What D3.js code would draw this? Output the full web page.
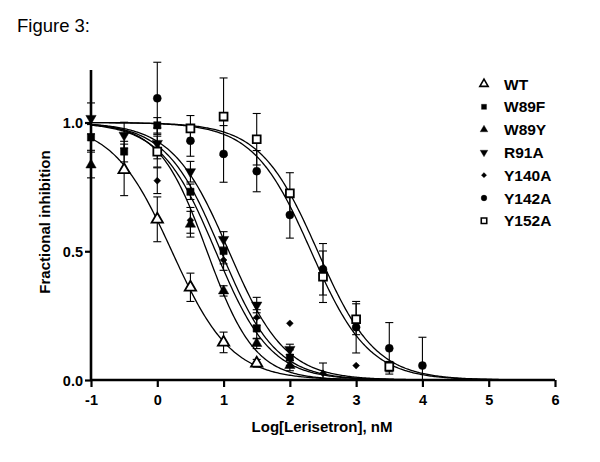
<!DOCTYPE html>
<html><head><meta charset="utf-8">
<script src="https://cdn.jsdelivr.net/npm/d3@7"></script>
<style>
body{margin:0;background:#fff;}
svg{display:block;font-family:"Liberation Sans",Arial,sans-serif;}
</style></head><body>
<svg id="c" width="600" height="462"></svg>
<script>
// ---- data ----
const seriesNames = ["WT","W89F","W89Y","R91A","Y140A","Y142A","Y152A"];
const xWT    = [-0.5, 0, 0.5, 1, 1.5];
const yWT    = [0.816, 0.624, 0.36, 0.146, 0.065];
const eWT    = [0.10, 0.087, 0.055, 0.04, 0.015];
const xW89F  = [-1, -0.5, 0, 0.5, 1, 1.5, 2];
const yW89F  = [0.942, 0.887, 0.989, 0.731, 0.501, 0.20, 0.087];
const eW89F  = [0.05, 0.04, 0.03, 0.03, 0.05, 0.04, 0.03];
const xW89Y  = [-1, 0.5, 1, 1.5, 2];
const yW89Y  = [0.835, 0.605, 0.346, 0.142, 0.056];
const eW89Y  = [0.05, 0.05, 0.02, 0.02, 0.02];
const xR91A  = [-1, -0.5, 0, 0.5, 1, 1.5, 2];
const yR91A  = [1.016, 0.951, 0.919, 0.809, 0.546, 0.291, 0.119];
const eR91A  = [0.06, 0.05, 0.06, 0.04, 0.03, 0.03, 0.02];
const xY140A = [0, 0.5, 1, 1.5, 2, 2.5, 3];
const yY140A = [0.774, 0.62, 0.466, 0.243, 0.22, 0.026, 0.056];
const eY140A = [0.05, 0.05, 0.04, 0.03, 0, 0.04, 0];
const xY142A = [0, 0.5, 1, 1.5, 2, 2.5, 3, 3.5, 4];
const yY142A = [1.094, 0.929, 0.878, 0.811, 0.641, 0.43, 0.205, 0.123, 0.056];
const eY142A = [0.14, 0.06, 0.11, 0.08, 0.09, 0.10, 0.10, 0.10, 0.11];
const xY152A = [0, 0.5, 1, 1.5, 2, 2.5, 3, 3.5];
const yY152A = [0.887, 0.977, 1.023, 0.935, 0.725, 0.401, 0.236, 0.052];
const eY152A = [0.06, 0.05, 0.15, 0.10, 0.08, 0.10, 0.06, 0.02];
// fitted sigmoid parameters (log IC50, Hill slope)
const fitLogIC50 = [0.22, 0.96, 0.75, 1.08, 0.88, 2.32, 2.42];
const fitHill    = [0.97, 1.05, 1.2, 1.02, 1.05, 1.0, 1.0];
const xTicks = [-1,0,1,2,3,4,5,6];
const xTickLabels = ["-1","0","1","2","3","4","5","6"];
const yTicks = [0, 0.5, 1.0];
const yTickLabels = ["0.0","0.5","1.0"];
const titleText = "Figure 3:";
const xLabel = "Log[Lerisetron], nM";
const yLabel = "Fractional inhibition";

const xs = [xWT,xW89F,xW89Y,xR91A,xY140A,xY142A,xY152A];
const ys = [yWT,yW89F,yW89Y,yR91A,yY140A,yY142A,yY152A];
const es = [eWT,eW89F,eW89Y,eR91A,eY140A,eY142A,eY152A];

// marker styles
const symType = [d3.symbolTriangle,d3.symbolSquare,d3.symbolTriangle,d3.symbolTriangle,d3.symbolDiamond2,d3.symbolCircle,d3.symbolSquare];
const symSize = [56,52,46,46,30,50,62];
const symRot  = [0,0,0,180,0,0,0];
const symOpen = [true,false,false,false,false,false,true];

const svg = d3.select("#c");
const x = d3.scaleLinear().domain([-1,6]).range([91,555]);
const y = d3.scaleLinear().domain([0,1.2]).range([380,71]);

svg.append("text").attr("x",17).attr("y",32).attr("font-size",18.5).text(titleText);

// curves
const line = d3.line().x(d=>x(d[0])).y(d=>y(d[1]));
seriesNames.forEach((n,i)=>{
  const pts = d3.range(-1,6.001,0.02).map(v=>[v, 1/(1+Math.pow(10,(v-fitLogIC50[i])*fitHill[i]))]);
  svg.append("path").attr("d",line(pts)).attr("fill","none").attr("stroke","#000").attr("stroke-width",1.3);
});

// error bars
seriesNames.forEach((n,i)=>{
  const g = svg.append("g").attr("stroke","#000").attr("stroke-width",1.1);
  xs[i].forEach((xv,j)=>{
    const e = es[i][j]; if(!e) return;
    const cx = x(xv), y1 = y(ys[i][j]+e), y2 = y(Math.max(0,ys[i][j]-e));
    g.append("line").attr("x1",cx).attr("x2",cx).attr("y1",y1).attr("y2",y2);
    g.append("line").attr("x1",cx-4).attr("x2",cx+4).attr("y1",y1).attr("y2",y1);
    g.append("line").attr("x1",cx-4).attr("x2",cx+4).attr("y1",y2).attr("y2",y2);
  });
});

// markers
seriesNames.forEach((n,i)=>{
  const sym = d3.symbol().type(symType[i]).size(symSize[i]);
  xs[i].forEach((xv,j)=>{
    svg.append("path").attr("d",sym())
      .attr("transform",`translate(${x(xv)},${y(ys[i][j])}) rotate(${symRot[i]})`)
      .attr("fill",symOpen[i]?"#fff":"#000").attr("stroke","#000").attr("stroke-width",symOpen[i]?1.8:0.5);
  });
});

// axes
const xAxis = svg.append("g").attr("transform","translate(0,380)")
  .call(d3.axisBottom(x).tickValues(xTicks).tickFormat((d,i)=>xTickLabels[i]).tickSize(7).tickPadding(4));
const yAxis = svg.append("g").attr("transform","translate(91,0)")
  .call(d3.axisLeft(y).tickValues(yTicks).tickFormat((d,i)=>yTickLabels[i]).tickSize(6).tickPadding(2));
[xAxis,yAxis].forEach(a=>{
  a.select(".domain").attr("stroke","#000").attr("stroke-width",2.6);
  a.selectAll(".tick line").attr("stroke","#000").attr("stroke-width",2.2);
  a.selectAll("text").attr("font-size",14.5).attr("font-weight","bold").attr("fill","#000")
    .attr("font-family","Liberation Sans, Arial, sans-serif");
});
xAxis.select(".domain").attr("d","M91,0H555");
yAxis.select(".domain").attr("d","M0,70V381");
xAxis.selectAll(".tick text").attr("dy","0.95em");
yAxis.selectAll(".tick text").attr("dy","0.35em");

svg.append("text").attr("x",322).attr("y",432).attr("text-anchor","middle")
  .attr("font-size",15).attr("font-weight","bold").text(xLabel);
svg.append("text").attr("transform","translate(50,222) rotate(-90)").attr("text-anchor","middle")
  .attr("font-size",15).attr("font-weight","bold").text(yLabel);

// legend
seriesNames.forEach((n,i)=>{
  const ly = 84 + i*22.8;
  const sym = d3.symbol().type(symType[i]).size(symType[i]===d3.symbolDiamond2?18:(symOpen[i]?30:26));
  svg.append("path").attr("d",sym())
    .attr("transform",`translate(484,${ly}) rotate(${symRot[i]})`)
    .attr("fill",symOpen[i]?"#fff":"#000").attr("stroke","#000").attr("stroke-width",symOpen[i]?1.6:0.3);
  svg.append("text").attr("x",504).attr("y",ly+5.5).attr("font-size",15.5).attr("font-weight","bold").text(n);
});
</script>
</body></html>
